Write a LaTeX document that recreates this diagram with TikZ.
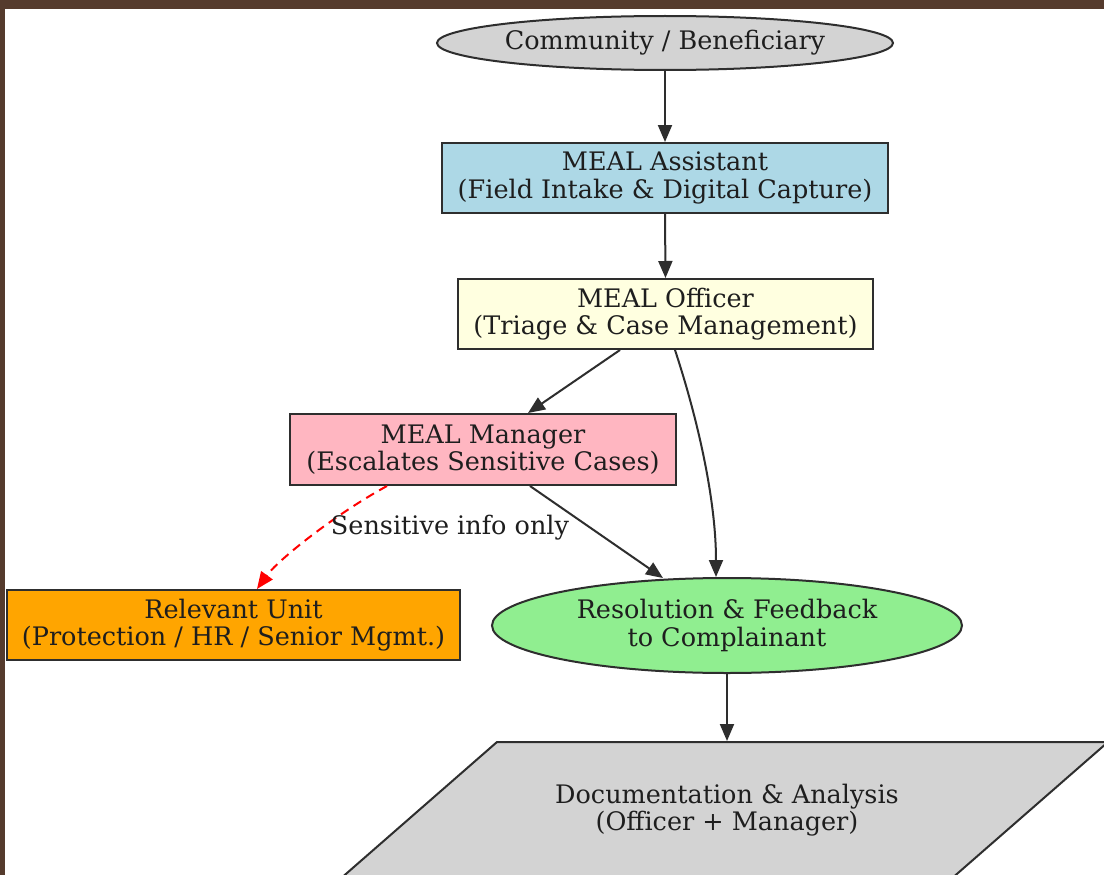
\documentclass[tikz,border=0pt]{standalone}
\usepackage{fontspec}
\setmainfont{DejaVu Serif}
\usetikzlibrary{shapes.geometric,arrows.meta}
\definecolor{frame}{HTML}{553B2D}
\definecolor{edge}{HTML}{2E2E2E}
\definecolor{txt}{HTML}{1E1E1E}
\definecolor{cblue}{HTML}{ADD8E6}
\definecolor{cyellow}{HTML}{FFFFE0}
\definecolor{cpink}{HTML}{FFB6C1}
\definecolor{corange}{HTML}{FFA500}
\definecolor{cgreen}{HTML}{90EE90}
\definecolor{cgray}{HTML}{D3D3D3}
\tikzset{
  base/.style={draw=edge, line width=2pt, text=txt, align=center, inner sep=0pt,
    font=\fontsize{25.5}{27.5}\selectfont},
  boxnode/.style={base, rectangle},
  ovalnode/.style={base, ellipse},
  conn/.style={draw=edge, line width=2pt, -{Triangle[length=17pt,width=14pt]}},
  redconn/.style={draw=red, line width=2pt, dash pattern=on 9pt off 6pt,
    -{Triangle[length=17pt,width=14pt,fill=red]}},
  lbl/.style={text=txt, font=\fontsize{25.5}{27.5}\selectfont, inner sep=0pt}
}
\begin{document}
\begin{tikzpicture}[x=1pt,y=-1pt]
\useasboundingbox (0,0) rectangle (1104,875);
\begin{scope}
\clip (0,0) rectangle (1104,875);
\fill[white] (0,0) rectangle (1104,875);
% parallelogram
\draw[fill=cgray, draw=edge, line width=2pt] (497,742) -- (1108,742) -- (950,880) -- (339,880) -- cycle;
\end{scope}

\node[ovalnode, fill=cgray, minimum width=456pt, minimum height=54pt] (comm) at (665,43) {Community / Beneficiary};
\node[boxnode, fill=cblue, minimum width=446pt, minimum height=70pt] (asst) at (665,178) {MEAL Assistant\\(Field Intake \& Digital Capture)};
\node[boxnode, fill=cyellow, minimum width=415pt, minimum height=70pt] (off) at (665.5,314) {MEAL Officer\\(Triage \& Case Management)};
\node[boxnode, fill=cpink, minimum width=386pt, minimum height=71pt] (mgr) at (483,449.5) {MEAL Manager\\(Escalates Sensitive Cases)};
\node[boxnode, fill=corange, minimum width=453pt, minimum height=70pt] (unit) at (233.5,625) {Relevant Unit\\(Protection / HR / Senior Mgmt.)};
\node[ovalnode, fill=cgreen, minimum width=470pt, minimum height=95pt] (res) at (727,625.5) {Resolution \& Feedback\\to Complainant};
\node[base, draw=none, minimum width=300pt, minimum height=136pt] (doc) at (727,810) {Documentation \& Analysis\\(Officer + Manager)};

\draw[conn] (comm.south) -- (asst.north);
\draw[conn] (asst.south) -- (off.north);
\draw[conn] (off.south -| 620,0) -- (mgr.north -| 528,0);
\draw[conn] (off.south -| 675,0) .. controls (698,420) and (716,500) .. (res.north -| 716,0);
\draw[conn] (mgr.south -| 530,0) -- (663,578);
\draw[redconn] (mgr.south -| 387,0) .. controls (334,515) and (278,560) .. (unit.north -| 257,0);
\node[lbl] (sl) at (450,528) {Sensitive info only};
\draw[conn] (res.south) -- (doc.north);

% frame
\fill[frame] (0,0) rectangle (1104,9);
\fill[frame] (0,0) rectangle (5,875);
\end{tikzpicture}
\end{document}
